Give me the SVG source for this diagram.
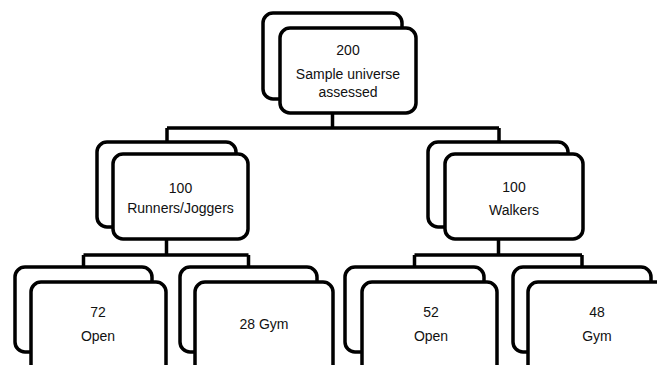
<svg xmlns="http://www.w3.org/2000/svg" width="657" height="365" viewBox="0 0 657 365">
<style>
.b{fill:#fff;stroke:#000;stroke-width:3.5}
.c{fill:none;stroke:#000;stroke-width:3.5}
text{font-family:"Liberation Sans",Arial,sans-serif;font-size:14px;fill:#111;text-anchor:middle}
</style>
<rect width="657" height="365" fill="#fff"/>
<g id="connectors">
<path class="c" d="M332.5 113V128M167 128H499M167 128V142M499 128V142"/>
<path class="c" d="M166.5 239V255M83.5 255H248.5M83.5 255V267M248.5 255V267"/>
<path class="c" d="M498.5 239V255M414.5 255H582M414.5 255V267M582 255V267"/>
</g>
<g id="n200">
<rect class="b" x="263" y="13" width="139" height="86" rx="10"/>
<rect class="b" x="280" y="28" width="136" height="85" rx="10"/>
<text x="348" y="55">200</text>
<text x="348" y="79">Sample universe</text>
<text x="348" y="97">assessed</text>
</g>
<g id="runners">
<rect class="b" x="97" y="142" width="139" height="85" rx="10"/>
<rect class="b" x="113" y="154" width="135" height="85" rx="10"/>
<text x="180.5" y="193">100</text>
<text x="180.5" y="213">Runners/Joggers</text>
</g>
<g id="walkers">
<rect class="b" x="428" y="142" width="140" height="85" rx="10"/>
<rect class="b" x="445" y="154" width="138" height="85" rx="10"/>
<text x="514" y="192">100</text>
<text x="514" y="215">Walkers</text>
</g>
<g id="open72">
<rect class="b" x="15" y="267" width="137" height="85" rx="10"/>
<rect class="b" x="31" y="282" width="135" height="100" rx="10"/>
<text x="98" y="317">72</text>
<text x="98" y="341">Open</text>
</g>
<g id="gym28">
<rect class="b" x="180" y="267" width="137" height="85" rx="10"/>
<rect class="b" x="195" y="282" width="138" height="100" rx="10"/>
<text x="264" y="329">28 Gym</text>
</g>
<g id="open52">
<rect class="b" x="345" y="267" width="139" height="85" rx="10"/>
<rect class="b" x="362" y="282" width="135" height="100" rx="10"/>
<text x="431" y="317">52</text>
<text x="431" y="341">Open</text>
</g>
<g id="gym48">
<rect class="b" x="513" y="267" width="138" height="85" rx="10"/>
<rect class="b" x="528" y="282" width="138" height="100" rx="10"/>
<text x="597" y="317">48</text>
<text x="597" y="341">Gym</text>
</g>
</svg>
